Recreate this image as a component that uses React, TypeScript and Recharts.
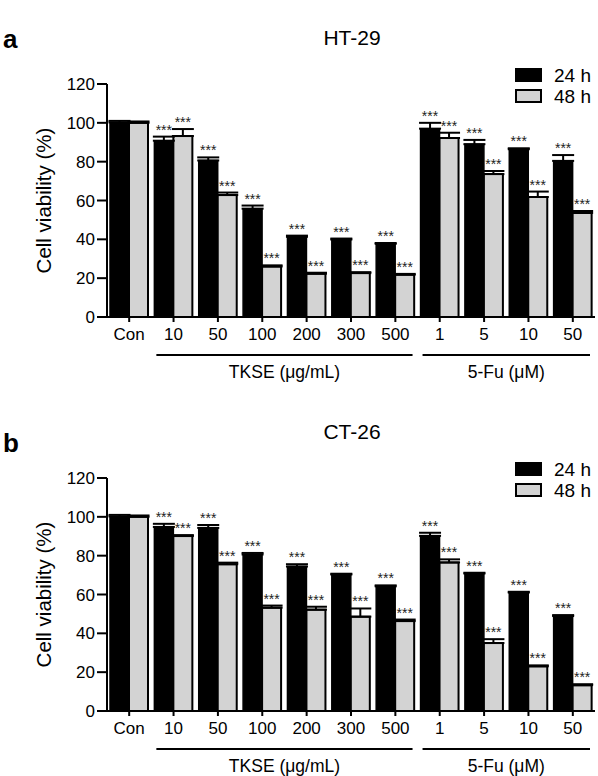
import { BarChart, Bar, XAxis, YAxis, ErrorBar, LabelList } from "recharts";

// x categories (index based, duplicates like "10" / "50" occur in both groups)
const categories = ["Con", "10", "50", "100", "200", "300", "500", "1", "5", "10", "50"];
const sig = ["", "***", "***", "***", "***", "***", "***", "***", "***", "***", "***"];
const yTicks = [0, 20, 40, 60, 80, 100, 120];

const groups = [
  { name: "TKSE (μg/mL)", start: 1, end: 6 },
  { name: "5-Fu (μM)", start: 7, end: 10 },
];

// HT-29
const ht29_24 = [100.2, 90.8, 80.6, 55.8, 41.3, 39.9, 37.7, 97.0, 89.0, 86.4, 80.4];
const ht29_24err = [0.8, 2.1, 1.6, 1.6, 0.6, 0.5, 0.4, 3.0, 2.2, 0.5, 3.0];
const ht29_48 = [100.0, 93.2, 62.8, 26.0, 22.3, 22.6, 21.8, 92.2, 73.6, 61.8, 53.6];
const ht29_48err = [0.7, 3.6, 1.3, 0.6, 0.5, 0.5, 0.4, 2.7, 1.6, 2.8, 1.0];

// CT-26
const ct26_24 = [100.2, 94.8, 94.3, 80.6, 74.4, 70.3, 64.2, 90.2, 70.8, 61.0, 48.9];
const ct26_24err = [0.8, 1.6, 1.5, 0.8, 1.2, 0.4, 0.5, 1.6, 0.4, 0.4, 0.5];
const ct26_48 = [100.0, 90.1, 75.6, 53.2, 52.2, 48.6, 46.3, 76.5, 35.0, 23.0, 13.3];
const ct26_48err = [0.7, 0.5, 0.8, 1.1, 1.5, 4.2, 0.8, 1.6, 2.0, 0.5, 0.5];

const FONT = '"Liberation Sans", Arial, sans-serif';
const GRAY = "#d3d3d3";

const XTick = (props: any) => {
  const { x, y, payload, index } = props;
  const i = payload?.index ?? index;
  const half = payload?.offset ?? 22.2;
  const g = groups.find((gr) => gr.start === i);
  let grp = null;
  if (g) {
    const x1 = x - half + 5;
    const x2 = x + (g.end - g.start) * 2 * half + half - 5;
    grp = (
      <g>
        <line x1={x1} x2={x2} y1={y + 31} y2={y + 31} stroke="#000" strokeWidth={2} />
        <text x={(x1 + x2) / 2} y={y + 54} textAnchor="middle" fontSize={17.5} fontFamily={FONT} fill="#000">
          {g.name}
        </text>
      </g>
    );
  }
  return (
    <g>
      <text x={x} y={y + 16} textAnchor="middle" fontSize={17} fontFamily={FONT} fill="#000">
        {categories[i]}
      </text>
      {grp}
    </g>
  );
};

// stars sit just above the error bar cap; error height taken from the bar's own pixel scale
const starLabel = (vals: number[], errs: number[]) => (p: any) => {
  const vb = p.viewBox || {};
  const x = vb.x ?? p.x;
  const y = vb.y ?? p.y;
  const w = vb.width ?? p.width;
  const h = vb.height ?? p.height;
  const i = p.index;
  if (!p.value) return null;
  const errPx = vals[i] ? (errs[i] * Math.abs(h)) / vals[i] : 0;
  return (
    <text x={x + w / 2} y={y - errPx - 2} textAnchor="middle" fontSize={14} fontFamily={FONT} fill="#222">
      {p.value}
    </text>
  );
};

type PanelProps = {
  top: number;
  height: number;
  letter: string;
  letterY: number;
  title: string;
  v24: number[];
  e24: number[];
  v48: number[];
  e48: number[];
};

const Panel = ({ top, height, letter, letterY, title, v24, e24, v48, e48 }: PanelProps) => {
  const data = categories.map((_, i) => ({
    key: String(i),
    v24: v24[i],
    v48: v48[i],
    e24: [0, e24[i]],
    e48: [0, e48[i]],
    s24: sig[i],
    s48: sig[i],
  }));

  return (
    <div style={{ position: "absolute", left: 0, top, width: 598, height }}>
      <BarChart
        width={598}
        height={height}
        data={data}
        margin={{ top: 84, right: 3, left: 0, bottom: height - 317 - 30 }}
        barCategoryGap={3}
        barGap={0}
      >
        <XAxis
          dataKey="key"
          height={30}
          interval={0}
          tick={<XTick />}
          tickSize={5}
          tickMargin={2}
          axisLine={{ stroke: "#000", strokeWidth: 2 }}
          tickLine={{ stroke: "#000", strokeWidth: 2 }}
        />
        <YAxis
          width={107}
          domain={[0, 120]}
          ticks={yTicks}
          interval={0}
          tickSize={10}
          tickMargin={2}
          axisLine={{ stroke: "#000", strokeWidth: 2 }}
          tickLine={{ stroke: "#000", strokeWidth: 2 }}
          tick={{ fill: "#000", fontSize: 17, fontFamily: FONT }}
        />
        <Bar dataKey="v24" fill="#000" stroke="#000" strokeWidth={1.5} isAnimationActive={false}>
          <ErrorBar dataKey="e24" direction="y" width={11} stroke="#000" strokeWidth={2} isAnimationActive={false} />
          <LabelList dataKey="s24" content={starLabel(v24, e24)} />
        </Bar>
        <Bar dataKey="v48" fill={GRAY} stroke="#000" strokeWidth={2} isAnimationActive={false}>
          <ErrorBar dataKey="e48" direction="y" width={11} stroke="#000" strokeWidth={2} isAnimationActive={false} />
          <LabelList dataKey="s48" content={starLabel(v48, e48)} />
        </Bar>
      </BarChart>

      <svg
        width={598}
        height={height}
        style={{ position: "absolute", left: 0, top: 0, pointerEvents: "none" }}
        fontFamily={FONT}
      >
        <text x={3} y={letterY} fontSize={26} fontWeight="bold" fill="#000">
          {letter}
        </text>
        <text x={352} y={45} fontSize={21} textAnchor="middle" fill="#000">
          {title}
        </text>
        <text
          x={43}
          y={200.5}
          fontSize={20.5}
          textAnchor="middle"
          dominantBaseline="central"
          transform="rotate(-90 43 200.5)"
          fill="#000"
        >
          Cell viability (%)
        </text>
        <rect x={515} y={68} width={27} height={14} fill="#000" />
        <rect x={516} y={90} width={25} height={12} fill={GRAY} stroke="#000" strokeWidth={2} />
        <text x={554} y={82} fontSize={19} fill="#000">24 h</text>
        <text x={554} y={103} fontSize={19} fill="#000">48 h</text>
      </svg>
    </div>
  );
};

export default function App() {
  return (
    <div style={{ position: "absolute", left: 0, top: 0, width: 598, height: 776, background: "#fff" }}>
      <Panel top={0} height={394} letter="a" letterY={47.5} title="HT-29" v24={ht29_24} e24={ht29_24err} v48={ht29_48} e48={ht29_48err} />
      <Panel top={394} height={382} letter="b" letterY={57.5} title="CT-26" v24={ct26_24} e24={ct26_24err} v48={ct26_48} e48={ct26_48err} />
    </div>
  );
}
